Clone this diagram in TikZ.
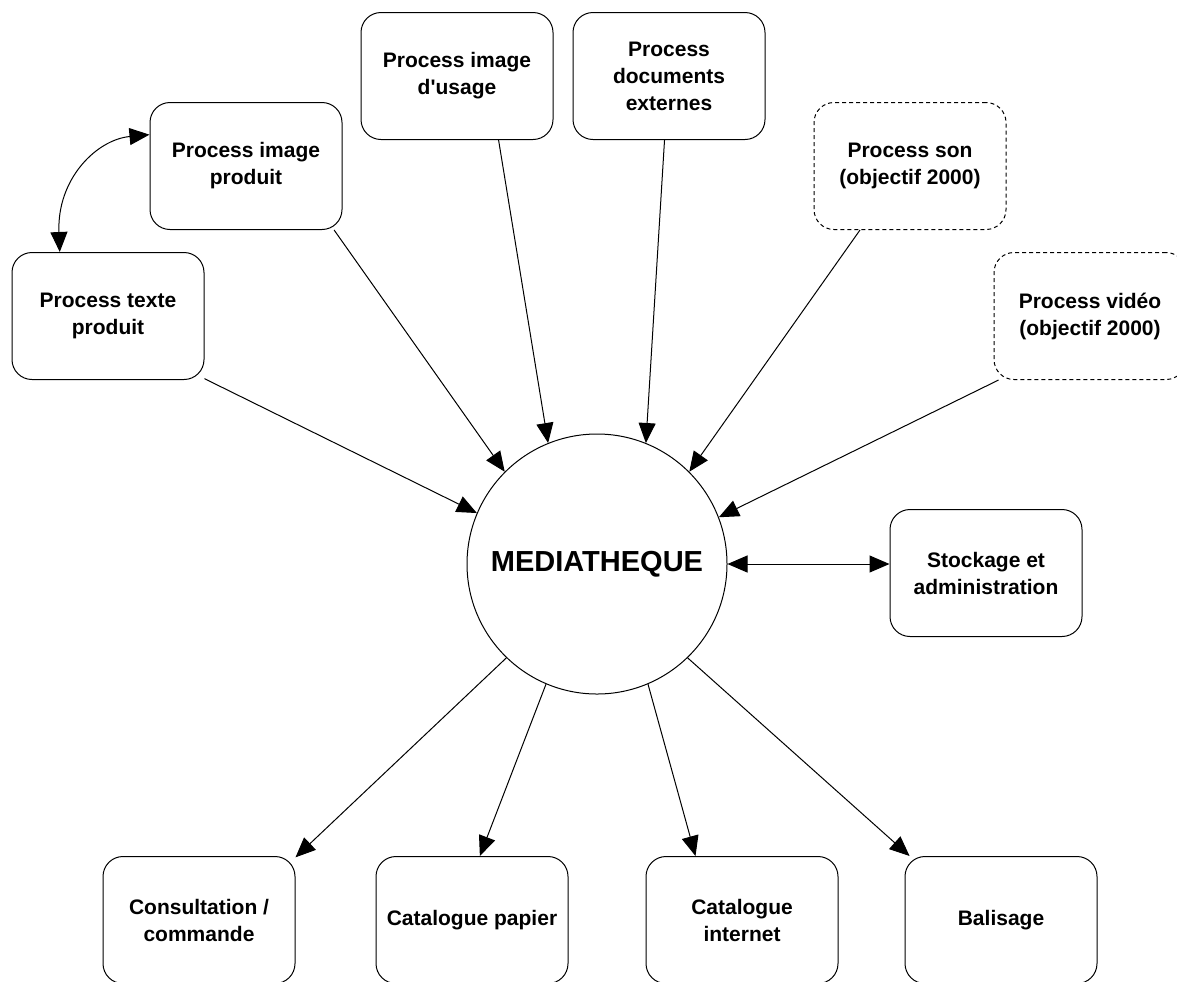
\documentclass[tikz,border=0pt]{standalone}
\usepackage{fontspec}
\setmainfont{Liberation Sans}
\usetikzlibrary{arrows.meta}

\begin{document}
\begin{tikzpicture}[x=0.5pt,y=-0.5pt,
        proc/.style={draw,line width=0.5pt,rounded corners=10pt,minimum width=96pt,minimum height=63.5pt,align=center,font=\fontsize{10.5}{13.5}\selectfont\bfseries},
        futur/.style={proc,dash pattern=on 2pt off 1.5pt},
        fleche/.style={-{Triangle[length=10pt,width=8.5pt]},line width=0.5pt},
        double/.style={{Triangle[length=10pt,width=8.5pt]}-{Triangle[length=10pt,width=8.5pt]},line width=0.5pt}]
            \useasboundingbox (0,0) rectangle (1177,981);
            \clip (0,0) rectangle (1177,981);
            \node[draw,circle,line width=0.5pt,minimum size=130pt,inner sep=0pt,font=\fontsize{14.5}{17}\selectfont\bfseries] (media) at (597,564) {MEDIATHEQUE};
            \node[proc] (ptp) at (108,316) {Process texte\\produit};
            \node[proc] (pip) at (246,166) {Process image\\produit};
            \node[proc] (piu) at (457,76) {Process image\\d\textquotesingle usage};
            \node[proc] (pde) at (669,76) {Process\\documents\\externes};
            \node[futur] (pson) at (910,166) {Process son\\(objectif 2000)};
            \node[futur] (pvid) at (1090,316) {Process vidéo\\(objectif 2000)};
            \node[proc] (stock) at (986,573) {Stockage et\\administration};
            \node[proc] (cons) at (199,920) {Consultation /\\commande};
            \node[proc] (catp) at (472,920) {Catalogue papier};
            \node[proc] (cati) at (742,920) {Catalogue\\internet};
            \node[proc] (bal) at (1001,920) {Balisage};
            \draw[double] (ptp.127) .. controls +(-3,-73) and +(-53,5) .. (pip.162);
            \draw[fleche] (ptp.-33) -- (media.157);
            \draw[fleche] (pip.-36) -- (media.135);
            \draw[fleche] (piu.-57) -- (media.112);
            \draw[fleche] (pde.-94) -- (media.68);
            \draw[fleche] (pson.-128) -- (media.45);
            \draw[fleche] (pvid.-145) -- (media.21);
            \draw[double] (media.east) -- (media.east -| stock.west);
            \draw[fleche] (media.-134) -- (cons.33);
            \draw[fleche] (media.-113) -- (catp.83);
            \draw[fleche] (media.-67) -- (cati.126);
            \draw[fleche] (media.-46) -- (bal.145);
        \end{tikzpicture}
\end{document}
